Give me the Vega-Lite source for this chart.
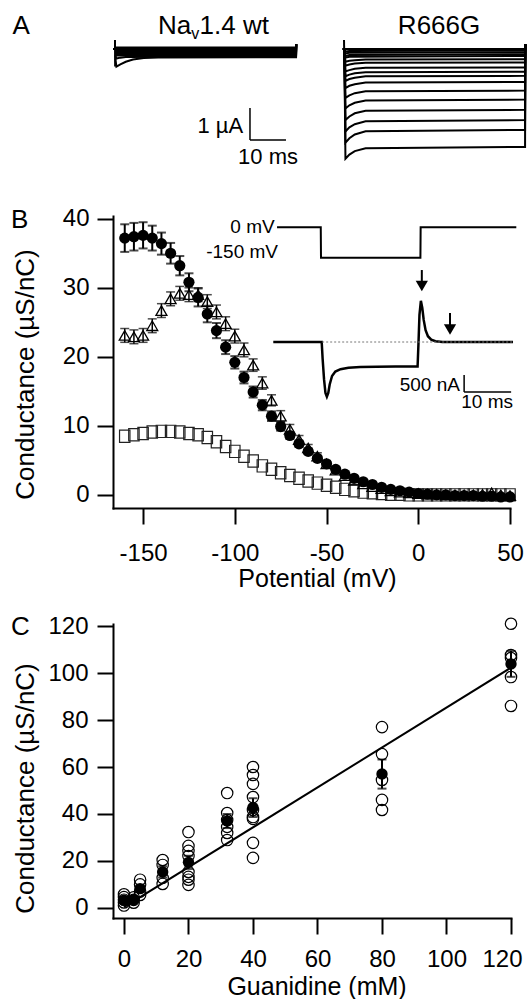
{
"$schema": "https://vega.github.io/schema/vega-lite/v6.json",
"padding": {"left": 10, "top": 12, "right": 0, "bottom": 0},
"background": "white",
"config": {
  "font": "Liberation Sans",
  "view": {"stroke": null},
  "axis": {"domainColor": "black", "domainWidth": 2, "domainCap": "square", "tickColor": "black", "tickWidth": 2, "tickSize": 16, "labelFontSize": 24, "labelColor": "black", "labelFont": "Liberation Sans", "titleFont": "Liberation Sans", "titleFontSize": 25, "titleFontWeight": "normal", "titleColor": "black", "grid": false},
  "text": {"font": "Liberation Sans", "color": "black"},
  "point": {"opacity": 1},
  "circle": {"opacity": 1}
},
"datasets": {
  "wt": [
    {"tr":"pre","t":-0.55,"i":0},{"tr":"pre","t":0,"i":0},
    {"tr":"sp","t":0,"i":0.28},{"tr":"sp","t":0.05,"i":-0.55},
    {"tr":"w0","t":0.1,"i":0.05},{"tr":"w0","t":50.3,"i":0.05},{"tr":"w0","t":50.35,"i":0.15},
    {"tr":"w1","t":0.1,"i":0},{"tr":"w1","t":50.3,"i":0},{"tr":"w1","t":50.35,"i":0.15},
    {"tr":"w2","t":0.1,"i":-0.04},{"tr":"w2","t":50.3,"i":-0.04},{"tr":"w2","t":50.35,"i":0.15},
    {"tr":"w3","t":0.1,"i":-0.08},{"tr":"w3","t":50.3,"i":-0.08},{"tr":"w3","t":50.35,"i":0.15},
    {"tr":"w4","t":0.1,"i":-0.12},{"tr":"w4","t":50.3,"i":-0.12},{"tr":"w4","t":50.35,"i":0.15},
    {"tr":"w5","t":0.1,"i":-0.16},{"tr":"w5","t":50.3,"i":-0.16},{"tr":"w5","t":50.35,"i":0.15},
    {"tr":"w6","t":0.1,"i":-0.2},{"tr":"w6","t":50.3,"i":-0.2},{"tr":"w6","t":50.35,"i":0.15},
    {"tr":"w7","t":0.1,"i":-0.2},{"tr":"w7","t":0.4,"i":-0.3},{"tr":"w7","t":1.5,"i":-0.27},{"tr":"w7","t":3,"i":-0.25},{"tr":"w7","t":50.3,"i":-0.235},{"tr":"w7","t":50.35,"i":0.15},
    {"tr":"w8","t":0.1,"i":-0.3},{"tr":"w8","t":0.4,"i":-0.55},{"tr":"w8","t":1.5,"i":-0.48},{"tr":"w8","t":3,"i":-0.4},{"tr":"w8","t":5,"i":-0.33},{"tr":"w8","t":8,"i":-0.285},{"tr":"w8","t":12,"i":-0.265},{"tr":"w8","t":50.3,"i":-0.26},{"tr":"w8","t":50.35,"i":0.15}
  ],
  "r666g": [
    {"tr":"pre","t":-0.5,"i":0},{"tr":"pre","t":0,"i":0},
    {"tr":"sp","t":0,"i":0.28},{"tr":"sp","t":0.05,"i":-0.05},
    {"tr":"r0","t":0.1,"i":0},{"tr":"r0","t":50.3,"i":0},{"tr":"r0","t":50.35,"i":0.15},
    {"tr":"r1","t":0.1,"i":-0.03},{"tr":"r1","t":0.4,"i":-0.08},{"tr":"r1","t":1.5,"i":-0.06},{"tr":"r1","t":50.3,"i":-0.05},{"tr":"r1","t":50.35,"i":0.15},
    {"tr":"r2","t":0.1,"i":-0.06},{"tr":"r2","t":0.4,"i":-0.14},{"tr":"r2","t":1.5,"i":-0.12},{"tr":"r2","t":50.3,"i":-0.1},{"tr":"r2","t":50.35,"i":0.15},
    {"tr":"r3","t":0.1,"i":-0.1},{"tr":"r3","t":0.4,"i":-0.22},{"tr":"r3","t":1.5,"i":-0.19},{"tr":"r3","t":50.3,"i":-0.16},{"tr":"r3","t":50.35,"i":0.15},
    {"tr":"r3b","t":0.1,"i":-0.1},{"tr":"r3b","t":0.4,"i":-0.27},{"tr":"r3b","t":1.5,"i":-0.24},{"tr":"r3b","t":50.3,"i":-0.22},{"tr":"r3b","t":50.35,"i":0.15},
    {"tr":"r4","t":0.1,"i":0},{"tr":"r4","t":0.4,"i":-0.4},{"tr":"r4","t":1.5,"i":-0.37},{"tr":"r4","t":3,"i":-0.35},{"tr":"r4","t":6,"i":-0.33},{"tr":"r4","t":50.3,"i":-0.32},{"tr":"r4","t":50.35,"i":0.15},
    {"tr":"r5","t":0.1,"i":0},{"tr":"r5","t":0.4,"i":-0.52},{"tr":"r5","t":1.5,"i":-0.485},{"tr":"r5","t":3,"i":-0.455},{"tr":"r5","t":6,"i":-0.43},{"tr":"r5","t":50.3,"i":-0.42},{"tr":"r5","t":50.35,"i":0.15},
    {"tr":"r6","t":0.1,"i":0},{"tr":"r6","t":0.4,"i":-0.7},{"tr":"r6","t":1.5,"i":-0.66},{"tr":"r6","t":3,"i":-0.62},{"tr":"r6","t":6,"i":-0.59},{"tr":"r6","t":50.3,"i":-0.58},{"tr":"r6","t":50.35,"i":0.15},
    {"tr":"r7","t":0.1,"i":0},{"tr":"r7","t":0.4,"i":-0.85},{"tr":"r7","t":1.5,"i":-0.8},{"tr":"r7","t":3,"i":-0.76},{"tr":"r7","t":6,"i":-0.725},{"tr":"r7","t":50.3,"i":-0.71},{"tr":"r7","t":50.35,"i":0.15},
    {"tr":"r8","t":0.1,"i":0},{"tr":"r8","t":0.4,"i":-1.0},{"tr":"r8","t":1.5,"i":-0.94},{"tr":"r8","t":3,"i":-0.9},{"tr":"r8","t":6,"i":-0.855},{"tr":"r8","t":50.3,"i":-0.84},{"tr":"r8","t":50.35,"i":0.15},
    {"tr":"r9","t":0.1,"i":0},{"tr":"r9","t":0.4,"i":-1.22},{"tr":"r9","t":1.5,"i":-1.15},{"tr":"r9","t":3,"i":-1.1},{"tr":"r9","t":6,"i":-1.05},{"tr":"r9","t":50.3,"i":-1.03},{"tr":"r9","t":50.35,"i":0.15},
    {"tr":"r10","t":0.1,"i":0},{"tr":"r10","t":0.4,"i":-1.53},{"tr":"r10","t":1.5,"i":-1.45},{"tr":"r10","t":3,"i":-1.38},{"tr":"r10","t":6,"i":-1.32},{"tr":"r10","t":50.3,"i":-1.3},{"tr":"r10","t":50.35,"i":0.15},
    {"tr":"r11","t":0.1,"i":0},{"tr":"r11","t":0.4,"i":-1.86},{"tr":"r11","t":1.5,"i":-1.76},{"tr":"r11","t":3,"i":-1.68},{"tr":"r11","t":6,"i":-1.61},{"tr":"r11","t":50.3,"i":-1.58},{"tr":"r11","t":50.35,"i":0.15},
    {"tr":"r12","t":0.1,"i":0},{"tr":"r12","t":0.4,"i":-2.22},{"tr":"r12","t":1.5,"i":-2.11},{"tr":"r12","t":3,"i":-2.01},{"tr":"r12","t":6,"i":-1.93},{"tr":"r12","t":50.3,"i":-1.9},{"tr":"r12","t":50.35,"i":0.15},
    {"tr":"r13","t":0.1,"i":0},{"tr":"r13","t":0.4,"i":-2.58},{"tr":"r13","t":1.5,"i":-2.45},{"tr":"r13","t":3,"i":-2.35},{"tr":"r13","t":6,"i":-2.26},{"tr":"r13","t":50.3,"i":-2.22},{"tr":"r13","t":50.35,"i":0.15},
    {"tr":"r14","t":0.1,"i":0},{"tr":"r14","t":0.4,"i":-2.93},{"tr":"r14","t":1.5,"i":-2.79},{"tr":"r14","t":3,"i":-2.67},{"tr":"r14","t":6,"i":-2.57},{"tr":"r14","t":50.3,"i":-2.53},{"tr":"r14","t":50.35,"i":0.15},
    {"tr":"r15","t":0.1,"i":0},{"tr":"r15","t":0.4,"i":-3.43},{"tr":"r15","t":1.5,"i":-3.3},{"tr":"r15","t":3,"i":-3.19},{"tr":"r15","t":6,"i":-3.1},{"tr":"r15","t":50.3,"i":-3.06},{"tr":"r15","t":50.35,"i":0.15}
  ],
  "gv": [
    {"V":-160,"G":37.2,"e":2.0,"s":"c"},{"V":-155,"G":37.4,"e":2.0,"s":"c"},{"V":-150,"G":37.6,"e":1.9,"s":"c"},{"V":-145,"G":37.2,"e":1.8,"s":"c"},{"V":-140,"G":36.4,"e":1.6,"s":"c"},{"V":-135,"G":35.0,"e":1.5,"s":"c"},{"V":-130,"G":33.2,"e":1.4,"s":"c"},{"V":-125,"G":30.8,"e":1.3,"s":"c"},{"V":-120,"G":28.6,"e":1.3,"s":"c"},{"V":-115,"G":26.2,"e":1.2,"s":"c"},{"V":-110,"G":23.8,"e":1.1,"s":"c"},{"V":-105,"G":21.4,"e":1.0,"s":"c"},{"V":-100,"G":19.2,"e":0.9,"s":"c"},{"V":-95,"G":17.0,"e":0.85,"s":"c"},{"V":-90,"G":14.9,"e":0.8,"s":"c"},{"V":-85,"G":13.0,"e":0.75,"s":"c"},{"V":-80,"G":11.4,"e":0.7,"s":"c"},{"V":-75,"G":9.9,"e":0.6,"s":"c"},{"V":-70,"G":8.6,"e":0.5,"s":"c"},{"V":-65,"G":7.4,"e":0.45,"s":"c"},{"V":-60,"G":6.3,"e":0.4,"s":"c"},{"V":-55,"G":5.3,"e":0.35,"s":"c"},{"V":-50,"G":4.5,"e":0.3,"s":"c"},{"V":-45,"G":3.7,"e":0.3,"s":"c"},{"V":-40,"G":3.0,"e":0.25,"s":"c"},{"V":-35,"G":2.4,"e":0.2,"s":"c"},{"V":-30,"G":1.9,"e":0.2,"s":"c"},{"V":-25,"G":1.5,"e":0.15,"s":"c"},{"V":-20,"G":1.1,"e":0.15,"s":"c"},{"V":-15,"G":0.8,"e":0.1,"s":"c"},{"V":-10,"G":0.6,"e":0.1,"s":"c"},{"V":-5,"G":0.4,"e":0.1,"s":"c"},{"V":0,"G":0.2,"e":0.1,"s":"c"},{"V":5,"G":0.1,"e":0.1,"s":"c"},{"V":10,"G":0.0,"e":0.1,"s":"c"},{"V":15,"G":0.0,"e":0.1,"s":"c"},{"V":20,"G":-0.1,"e":0.1,"s":"c"},{"V":25,"G":-0.1,"e":0.1,"s":"c"},{"V":30,"G":-0.1,"e":0.1,"s":"c"},{"V":35,"G":-0.2,"e":0.1,"s":"c"},{"V":40,"G":-0.2,"e":0.1,"s":"c"},{"V":45,"G":-0.3,"e":0.1,"s":"c"},{"V":50,"G":-0.3,"e":0.1,"s":"c"},
    {"V":-160,"G":23.1,"e":1.0,"s":"t"},{"V":-155,"G":22.9,"e":1.0,"s":"t"},{"V":-150,"G":23.1,"e":1.0,"s":"t"},{"V":-145,"G":24.5,"e":1.0,"s":"t"},{"V":-140,"G":26.7,"e":1.0,"s":"t"},{"V":-135,"G":28.4,"e":1.0,"s":"t"},{"V":-130,"G":29.2,"e":1.0,"s":"t"},{"V":-125,"G":29.0,"e":1.0,"s":"t"},{"V":-120,"G":29.0,"e":1.0,"s":"t"},{"V":-115,"G":28.0,"e":1.0,"s":"t"},{"V":-110,"G":26.5,"e":1.0,"s":"t"},{"V":-105,"G":24.8,"e":1.0,"s":"t"},{"V":-100,"G":23.0,"e":1.0,"s":"t"},{"V":-95,"G":21.0,"e":1.0,"s":"t"},{"V":-90,"G":18.8,"e":0.9,"s":"t"},{"V":-85,"G":16.2,"e":0.9,"s":"t"},{"V":-80,"G":13.7,"e":0.8,"s":"t"},{"V":-75,"G":11.4,"e":0.8,"s":"t"},{"V":-70,"G":9.5,"e":0.7,"s":"t"},{"V":-65,"G":8.0,"e":0.6,"s":"t"},{"V":-60,"G":6.8,"e":0.5,"s":"t"},{"V":-55,"G":5.6,"e":0.5,"s":"t"},{"V":-50,"G":4.5,"e":0.4,"s":"t"},{"V":-45,"G":3.6,"e":0.4,"s":"t"},{"V":-40,"G":2.8,"e":0.3,"s":"t"},{"V":-35,"G":2.1,"e":0.3,"s":"t"},{"V":-30,"G":1.6,"e":0.2,"s":"t"},{"V":-25,"G":1.2,"e":0.2,"s":"t"},{"V":-20,"G":0.9,"e":0.2,"s":"t"},{"V":-15,"G":0.6,"e":0.1,"s":"t"},{"V":-10,"G":0.4,"e":0.1,"s":"t"},{"V":-5,"G":0.3,"e":0.1,"s":"t"},{"V":0,"G":0.2,"e":0.1,"s":"t"},{"V":5,"G":0.1,"e":0.1,"s":"t"},{"V":10,"G":0.1,"e":0.1,"s":"t"},{"V":15,"G":0.0,"e":0.1,"s":"t"},{"V":20,"G":0.0,"e":0.1,"s":"t"},{"V":25,"G":0.0,"e":0.1,"s":"t"},{"V":30,"G":0.0,"e":0.1,"s":"t"},{"V":35,"G":0.1,"e":0.1,"s":"t"},{"V":40,"G":0.3,"e":0.1,"s":"t"},{"V":45,"G":0.0,"e":0.1,"s":"t"},{"V":50,"G":-0.1,"e":0.1,"s":"t"},
    {"V":-160,"G":8.5,"e":0,"s":"q"},{"V":-155,"G":8.7,"e":0,"s":"q"},{"V":-150,"G":8.9,"e":0,"s":"q"},{"V":-145,"G":9.1,"e":0,"s":"q"},{"V":-140,"G":9.2,"e":0,"s":"q"},{"V":-135,"G":9.2,"e":0,"s":"q"},{"V":-130,"G":9.1,"e":0,"s":"q"},{"V":-125,"G":8.9,"e":0,"s":"q"},{"V":-120,"G":8.7,"e":0,"s":"q"},{"V":-115,"G":8.3,"e":0,"s":"q"},{"V":-110,"G":7.7,"e":0,"s":"q"},{"V":-105,"G":7.0,"e":0,"s":"q"},{"V":-100,"G":6.3,"e":0,"s":"q"},{"V":-95,"G":5.6,"e":0,"s":"q"},{"V":-90,"G":4.9,"e":0,"s":"q"},{"V":-85,"G":4.2,"e":0,"s":"q"},{"V":-80,"G":3.7,"e":0,"s":"q"},{"V":-75,"G":3.2,"e":0,"s":"q"},{"V":-70,"G":2.8,"e":0,"s":"q"},{"V":-65,"G":2.4,"e":0,"s":"q"},{"V":-60,"G":2.0,"e":0,"s":"q"},{"V":-55,"G":1.7,"e":0,"s":"q"},{"V":-50,"G":1.4,"e":0,"s":"q"},{"V":-45,"G":1.1,"e":0,"s":"q"},{"V":-40,"G":0.8,"e":0,"s":"q"},{"V":-35,"G":0.6,"e":0,"s":"q"},{"V":-30,"G":0.4,"e":0,"s":"q"},{"V":-25,"G":0.3,"e":0,"s":"q"},{"V":-20,"G":0.2,"e":0,"s":"q"},{"V":-15,"G":0.1,"e":0,"s":"q"},{"V":-10,"G":0.1,"e":0,"s":"q"},{"V":-5,"G":0.0,"e":0,"s":"q"},{"V":0,"G":0.0,"e":0,"s":"q"},{"V":5,"G":0.0,"e":0,"s":"q"},{"V":10,"G":0.0,"e":0,"s":"q"},{"V":15,"G":0.0,"e":0,"s":"q"},{"V":20,"G":0.0,"e":0,"s":"q"},{"V":25,"G":0.0,"e":0,"s":"q"},{"V":30,"G":0.0,"e":0,"s":"q"},{"V":35,"G":0.0,"e":0,"s":"q"},{"V":40,"G":0.0,"e":0,"s":"q"},{"V":45,"G":0.0,"e":0,"s":"q"},{"V":50,"G":0.0,"e":0,"s":"q"}
  ],
  "cur": [
    {"t":0,"nA":0},{"t":10.3,"nA":0},{"t":10.5,"nA":-500},{"t":10.8,"nA":-1100},{"t":11.1,"nA":-1500},{"t":11.4,"nA":-1610},{"t":11.7,"nA":-1500},{"t":12.0,"nA":-1250},{"t":12.5,"nA":-1000},{"t":13.2,"nA":-870},{"t":14.3,"nA":-800},{"t":16,"nA":-760},{"t":18.5,"nA":-735},{"t":22,"nA":-725},{"t":26,"nA":-720},{"t":30.7,"nA":-720},{"t":30.9,"nA":0},{"t":31.1,"nA":800},{"t":31.4,"nA":1210},{"t":31.7,"nA":1000},{"t":32.0,"nA":650},{"t":32.4,"nA":350},{"t":32.9,"nA":170},{"t":33.6,"nA":70},{"t":34.5,"nA":25},{"t":36,"nA":0},{"t":51,"nA":0}
  ],
  "volt": [
    {"t":0.8,"mV":0},{"t":10.1,"mV":0},{"t":10.15,"mV":-150},{"t":31.3,"mV":-150},{"t":31.35,"mV":0},{"t":51.7,"mV":0}
  ],
  "copen": [
    {"c":0,"G":1.0},{"c":0,"G":2.3},{"c":0,"G":3.5},{"c":0,"G":4.6},{"c":0,"G":5.8},
    {"c":3,"G":2.2},{"c":3,"G":3.4},{"c":3,"G":4.5},
    {"c":5,"G":5.5},{"c":5,"G":7.0},{"c":5,"G":10.0},{"c":5,"G":12.0},
    {"c":12,"G":10.2},{"c":12,"G":12.8},{"c":12,"G":18.3},{"c":12,"G":20.4},
    {"c":20,"G":9.8},{"c":20,"G":12.0},{"c":20,"G":13.2},{"c":20,"G":15.3},{"c":20,"G":22.1},{"c":20,"G":24.3},{"c":20,"G":26.4},{"c":20,"G":32.3},
    {"c":32,"G":28.9},{"c":32,"G":31.9},{"c":32,"G":34.5},{"c":32,"G":37.4},{"c":32,"G":40.4},{"c":32,"G":48.9},
    {"c":40,"G":21.3},{"c":40,"G":27.7},{"c":40,"G":37.9},{"c":40,"G":38.7},{"c":40,"G":41.7},{"c":40,"G":47.2},{"c":40,"G":52.8},{"c":40,"G":56.6},{"c":40,"G":60.0},
    {"c":80,"G":41.7},{"c":80,"G":46.0},{"c":80,"G":54.5},{"c":80,"G":65.5},{"c":80,"G":77.0},
    {"c":120,"G":86.0},{"c":120,"G":98.3},{"c":120,"G":106.4},{"c":120,"G":107.7},{"c":120,"G":121.0}
  ],
  "cmean": [
    {"c":0,"G":3.3,"e":0.8},{"c":3,"G":3.5,"e":0.7},{"c":5,"G":8.2,"e":1.2},{"c":12,"G":15.3,"e":2.4},{"c":20,"G":19.4,"e":2.8},{"c":32,"G":37.0,"e":3.0},{"c":40,"G":42.7,"e":4.0},{"c":80,"G":57.0,"e":6.2},{"c":120,"G":103.9,"e":5.5}
  ],
  "fit": [{"c":0,"G":0.3},{"c":120,"G":102.3}]
},
"bounds": "flush",
"spacing": 116,
"vconcat": [
  {
    "width": 412, "height": 60,
    "resolve": {"scale": {"x": "independent"}},
    "layer": [
      {
        "layer": [
          {"data": {"name": "wt"}, "mark": {"type": "line", "color": "black", "strokeWidth": 2},
           "encoding": {
             "x": {"field": "t", "type": "quantitative", "scale": {"domain": [-0.55, 113.894], "nice": false, "zero": false}, "axis": null},
             "y": {"field": "i", "type": "quantitative", "scale": {"domain": [-1.594, 0.281], "nice": false, "zero": false}, "axis": null},
             "detail": {"field": "tr"}}},
          {"data": {"values": [{}]}, "mark": {"type": "rule", "color": "black", "strokeWidth": 1.5}, "encoding": {"x": {"datum": 37.5}, "y": {"datum": -1.844}, "y2": {"datum": -2.844}}},
          {"data": {"values": [{}]}, "mark": {"type": "rule", "color": "black", "strokeWidth": 1.5}, "encoding": {"x": {"datum": 37.5}, "x2": {"datum": 47.5}, "y": {"datum": -2.844}}},
          {"data": {"values": [{}]}, "mark": {"type": "text", "align": "left", "baseline": "alphabetic", "fontSize": 26}, "encoding": {"x": {"datum": -28.47}, "y": {"datum": 0.475}, "text": {"value": "A"}}},
          {"data": {"values": [{}]}, "mark": {"type": "text", "align": "left", "baseline": "alphabetic", "fontSize": 26}, "encoding": {"x": {"datum": 11.95}, "y": {"datum": 0.475}, "text": {"value": "Na"}}},
          {"data": {"values": [{}]}, "mark": {"type": "text", "align": "left", "baseline": "alphabetic", "fontSize": 16}, "encoding": {"x": {"datum": 21.17}, "y": {"datum": 0.312}, "text": {"value": "v"}}},
          {"data": {"values": [{}]}, "mark": {"type": "text", "align": "left", "baseline": "alphabetic", "fontSize": 26}, "encoding": {"x": {"datum": 23.48}, "y": {"datum": 0.475}, "text": {"value": "1.4 wt"}}},
          {"data": {"values": [{}]}, "mark": {"type": "text", "align": "right", "baseline": "alphabetic", "fontSize": 22}, "encoding": {"x": {"datum": 35.6}, "y": {"datum": -2.625}, "text": {"value": "1 µA"}}},
          {"data": {"values": [{}]}, "mark": {"type": "text", "align": "left", "baseline": "alphabetic", "fontSize": 22}, "encoding": {"x": {"datum": 34.2}, "y": {"datum": -3.594}, "text": {"value": "10 ms"}}}
        ]
      },
      {
        "layer": [
          {"data": {"name": "r666g"}, "mark": {"type": "line", "color": "black", "strokeWidth": 2},
           "encoding": {
             "x": {"field": "t", "type": "quantitative", "scale": {"domain": [-64.17, 50.28], "nice": false, "zero": false}, "axis": null},
             "y": {"field": "i", "type": "quantitative", "axis": null},
             "detail": {"field": "tr"}}},
          {"data": {"values": [{}]}, "mark": {"type": "text", "align": "center", "baseline": "alphabetic", "fontSize": 26}, "encoding": {"x": {"datum": 26.4}, "y": {"datum": 0.475}, "text": {"value": "R666G"}}}
        ]
      }
    ]
  },
  {
    "width": 397, "height": 292,
    "resolve": {"scale": {"x": "independent", "y": "independent"}},
    "layer": [
      {
        "layer": [
          {
            "data": {"name": "gv"},
            "encoding": {
              "x": {"field": "V", "type": "quantitative", "scale": {"domain": [-166.4, 50], "nice": false, "zero": false},
                    "axis": {"values": [-150, -100, -50, 0, 50], "title": "Potential (mV)", "labelPadding": 17, "labelFlush": false, "labelExpr": "datum.value + ''", "titleX": 204, "titleY": 78, "titleBaseline": "alphabetic"}},
              "y": {"field": "G", "type": "quantitative", "scale": {"domain": [-1.9, 40.4], "nice": false, "zero": false},
                    "axis": {"values": [0, 10, 20, 30, 40], "title": "Conductance (µS/nC)", "labelPadding": 8, "titleX": -80, "titleY": 158, "titleBaseline": "alphabetic", "titleFontSize": 26}}
            },
            "layer": [
              {"transform": [{"filter": "datum.s == 'q'"}], "mark": {"type": "point", "shape": "M-0.85,-1H0.85V1H-0.85Z", "filled": false, "color": "#222", "strokeWidth": 1.2, "size": 150}},
              {"transform": [{"filter": "datum.s == 't'"}], "mark": {"type": "errorbar", "thickness": 1.5, "color": "black", "ticks": {"size": 9, "thickness": 1.5, "color": "black"}}, "encoding": {"yError": {"field": "e"}}},
              {"transform": [{"filter": "datum.s == 't'"}], "mark": {"type": "point", "shape": "triangle-up", "filled": false, "color": "black", "strokeWidth": 1.3, "size": 120}},
              {"transform": [{"filter": "datum.s == 'c'"}], "mark": {"type": "errorbar", "thickness": 2, "color": "black", "ticks": {"size": 9, "thickness": 2, "color": "black"}}, "encoding": {"yError": {"field": "e"}}},
              {"transform": [{"filter": "datum.s == 'c'"}], "mark": {"type": "point", "shape": "circle", "filled": true, "color": "black", "size": 125}}
            ]
          },
          {"data": {"values": [{}]}, "mark": {"type": "text", "align": "left", "baseline": "alphabetic", "fontSize": 26}, "encoding": {"x": {"datum": -222.0}, "y": {"datum": 38.66}, "text": {"value": "B"}}}
        ]
      },
      {
        "layer": [
          {"data": {"name": "cur"}, "mark": {"type": "line", "color": "black", "strokeWidth": 2.5},
           "encoding": {
             "x": {"field": "t", "type": "quantitative", "scale": {"domain": [-34.1, 50.36], "nice": false, "zero": false}, "axis": null},
             "y": {"field": "nA", "type": "quantitative", "scale": {"domain": [-4882, 3706], "nice": false, "zero": false}, "axis": null}}},
          {"data": {"values": [{}]}, "mark": {"type": "rule", "color": "#777", "strokeWidth": 1, "strokeDash": [2, 2]}, "encoding": {"x": {"datum": 10.4}, "x2": {"datum": 51}, "y": {"datum": 0}}},
          {"data": {"values": [{}]}, "mark": {"type": "rule", "color": "black", "strokeWidth": 1.5}, "encoding": {"x": {"datum": 40.6}, "y": {"datum": -970}, "y2": {"datum": -1470}}},
          {"data": {"values": [{}]}, "mark": {"type": "rule", "color": "black", "strokeWidth": 1.5}, "encoding": {"x": {"datum": 40.6}, "x2": {"datum": 50.6}, "y": {"datum": -1470}}},
          {"data": {"values": [{}]}, "mark": {"type": "rule", "color": "black", "strokeWidth": 2}, "encoding": {"x": {"datum": 31.6}, "y": {"datum": 2117}, "y2": {"datum": 1647}}},
          {"data": {"values": [{}]}, "mark": {"type": "point", "shape": "triangle-down", "filled": true, "color": "black", "size": 150}, "encoding": {"x": {"datum": 31.6}, "y": {"datum": 1647}}},
          {"data": {"values": [{}]}, "mark": {"type": "rule", "color": "black", "strokeWidth": 2}, "encoding": {"x": {"datum": 37.6}, "y": {"datum": 853}, "y2": {"datum": 368}}},
          {"data": {"values": [{}]}, "mark": {"type": "point", "shape": "triangle-down", "filled": true, "color": "black", "size": 150}, "encoding": {"x": {"datum": 37.6}, "y": {"datum": 368}}},
          {"data": {"values": [{}]}, "mark": {"type": "text", "align": "right", "baseline": "middle", "fontSize": 19}, "encoding": {"x": {"datum": 39.7}, "y": {"datum": -1265}, "text": {"value": "500 nA"}}},
          {"data": {"values": [{}]}, "mark": {"type": "text", "align": "right", "baseline": "middle", "fontSize": 19}, "encoding": {"x": {"datum": 51.0}, "y": {"datum": -1765}, "text": {"value": "10 ms"}}}
        ]
      },
      {
        "layer": [
          {"data": {"name": "volt"}, "mark": {"type": "line", "color": "black", "strokeWidth": 2},
           "encoding": {
             "x": {"field": "t", "type": "quantitative", "scale": {"domain": [-34.1, 50.36], "nice": false, "zero": false}, "axis": null},
             "y": {"field": "mV", "type": "quantitative", "scale": {"domain": [-1385, 55.7], "nice": false, "zero": false}, "axis": null}}},
          {"data": {"values": [{}]}, "mark": {"type": "text", "align": "right", "baseline": "middle", "fontSize": 19}, "encoding": {"x": {"datum": 0.3}, "y": {"datum": 0}, "text": {"value": "0 mV"}}},
          {"data": {"values": [{}]}, "mark": {"type": "text", "align": "right", "baseline": "middle", "fontSize": 19}, "encoding": {"x": {"datum": 1.0}, "y": {"datum": -122}, "text": {"value": "-150 mV"}}}
        ]
      }
    ]
  },
  {
    "width": 398, "height": 294,
    "layer": [
      {
        "encoding": {
          "x": {"field": "c", "type": "quantitative", "scale": {"domain": [-3.4, 120], "nice": false, "zero": false},
                "axis": {"values": [0, 20, 40, 60, 80, 100, 120], "title": "Guanidine (mM)", "labelPadding": 13, "labelFlush": 2, "labelFlushOffset": 11, "titleX": 203.5, "titleY": 76, "titleBaseline": "alphabetic"}},
          "y": {"field": "G", "type": "quantitative", "scale": {"domain": [-4.3, 120.9], "nice": false, "zero": false},
                "axis": {"values": [0, 20, 40, 60, 80, 100, 120], "title": "Conductance (µS/nC)", "labelPadding": 9, "titleX": -80, "titleY": 164, "titleBaseline": "alphabetic", "titleFontSize": 26}}
        },
        "layer": [
          {"data": {"name": "copen"}, "mark": {"type": "point", "shape": "circle", "filled": false, "color": "black", "strokeWidth": 1.2, "size": 130}},
          {"data": {"name": "fit"}, "mark": {"type": "line", "color": "black", "strokeWidth": 2}},
          {"data": {"name": "cmean"}, "mark": {"type": "errorbar", "thickness": 2, "color": "black", "ticks": {"size": 9, "thickness": 2, "color": "black"}}, "encoding": {"yError": {"field": "e"}}},
          {"data": {"name": "cmean"}, "mark": {"type": "point", "shape": "circle", "filled": true, "color": "black", "size": 130}}
        ]
      },
      {"data": {"values": [{}]}, "mark": {"type": "text", "align": "left", "baseline": "alphabetic", "fontSize": 26}, "encoding": {"x": {"datum": -35.03}, "y": {"datum": 116.2}, "text": {"value": "C"}}}
    ]
  }
]
}
